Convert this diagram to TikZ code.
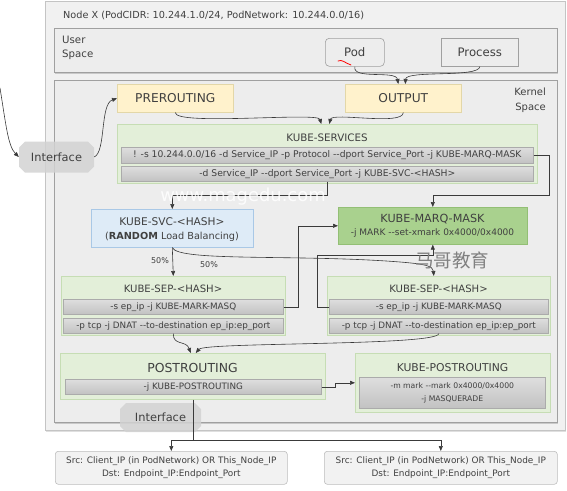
\documentclass[tikz,border=0pt]{standalone}
\usepackage{fontspec}
\setmainfont{DejaVu Sans}
\newfontfamily\cjkfont{Noto Sans CJK SC}
\usetikzlibrary{arrows.meta,shapes.misc,shadows,calc}

\definecolor{txt}{HTML}{404040}
\definecolor{linec}{HTML}{3A3A3A}
\definecolor{outerfill}{HTML}{F1F1F1}
\definecolor{outerdraw}{HTML}{C4C4C4}
\definecolor{spacefill}{HTML}{EDEDED}
\definecolor{spacedraw}{HTML}{A0A0A0}
\definecolor{yellowfill}{HTML}{FFF2CC}
\definecolor{yellowdraw}{HTML}{E3D7A8}
\definecolor{greenfill}{HTML}{E3EFD9}
\definecolor{greendraw}{HTML}{C6DDB4}
\definecolor{darkgreen}{HTML}{A9D18E}
\definecolor{darkgreendraw}{HTML}{93BF75}
\definecolor{bluefill}{HTML}{DEEBF7}
\definecolor{bluedraw}{HTML}{A9C8E6}
\definecolor{rowtop}{HTML}{DEDEDE}
\definecolor{rowbot}{HTML}{C2C2C2}
\definecolor{rowdraw}{HTML}{ABABAB}
\definecolor{ifacefill}{HTML}{D2D2D2}
\definecolor{dstfill}{HTML}{F2F2F2}
\definecolor{dstdraw}{HTML}{BDBDBD}

% two plain hyphens, kept apart from the en-dash ligature
\newcommand{\hh}{-{}-}

\begin{document}
\begin{tikzpicture}[x=1pt,y=-1pt,
  every node/.style={text=txt},
  boxK/.style={anchor=north west, inner sep=0pt, line width=0.6pt},
  spacebox/.style={boxK, fill=spacefill, draw=spacedraw,
    drop shadow={shadow xshift=1pt, shadow yshift=-1.5pt, opacity=0.35}},
  yellowbox/.style={boxK, fill=yellowfill, draw=yellowdraw, font=\fontsize{12.2}{14}\selectfont},
  greenbox/.style={boxK, fill=greenfill, draw=greendraw},
  rowbar/.style={boxK, top color=rowtop, bottom color=rowbot, draw=rowdraw,
    font=\fontsize{8.8}{10}\selectfont},
  userbox/.style={boxK, fill=spacefill, draw=spacedraw, font=\fontsize{11.7}{13}\selectfont},
  ttl/.style={font=\fontsize{10.3}{12}\selectfont, inner sep=0pt},
  iface/.style={chamfered rectangle, chamfered rectangle xsep=3pt,
    chamfered rectangle ysep=3pt, fill=ifacefill, fill opacity=0.85, text opacity=1,
    draw=none, inner sep=0pt, font=\fontsize{11.4}{14}\selectfont},
  dstbox/.style={boxK, rounded corners=3pt, fill=dstfill, draw=dstdraw,
    font=\fontsize{8.9}{13.5}\selectfont, align=center},
  pct/.style={font=\fontsize{8}{9}\selectfont, inner sep=0pt},
  arr/.style={draw=linec, line width=0.6pt, -{Triangle[length=5pt,width=4pt]}},
  plain/.style={draw=linec, line width=0.6pt}
]
\useasboundingbox (0,0) rectangle (567,490);

% ---------------- containers ----------------
\node[boxK, fill=outerfill, draw=outerdraw, minimum width=520pt, minimum height=429pt,
  drop shadow={shadow xshift=1pt, shadow yshift=-1.5pt, opacity=0.25}] (nodex) at (45,1) {};
\node[anchor=west, inner sep=0pt, font=\fontsize{9.7}{11}\selectfont] (nodextitle) at (63,15)
  {Node X (PodCIDR: 10.244.1.0/24, PodNetwork: 10.244.0.0/16)};

\node[spacebox, minimum width=503pt, minimum height=44pt] (user) at (54,28) {};
\node[anchor=north west, inner sep=0pt, align=left, font=\fontsize{10.2}{14}\selectfont] (usertxt)
  at (62,36) {User\\Space};

\node[spacebox, minimum width=503pt, minimum height=342pt] (kernel) at (54,80) {};
\node[anchor=north east, inner sep=0pt, align=right, font=\fontsize{10}{14.5}\selectfont] (kerneltxt)
  at (546,88) {Kernel\\Space};

% ---------------- user space ----------------
\node[userbox, rounded corners=4pt, minimum width=59pt, minimum height=28pt] (pod) at (325,38) {Pod};
\node[userbox, minimum width=77pt, minimum height=28pt] (process) at (441,38) {Process};

% ---------------- entry chains ----------------
\node[yellowbox, minimum width=116pt, minimum height=28pt] (pre) at (117,84) {PREROUTING};
\node[yellowbox, minimum width=116pt, minimum height=28pt] (out) at (345,84) {OUTPUT};

% KUBE-SERVICES
\node[greenbox, minimum width=420pt, minimum height=59pt] (svcs) at (117,124) {};
\node[ttl] (svcsttl) at (327,137.5) {KUBE-SERVICES};
\node[rowbar, minimum width=412pt, minimum height=16pt, font=\fontsize{9.2}{10}\selectfont] (svcsA) at (121,147)
  {! -s 10.244.0.0/16 -d Service\_IP -p Protocol \hh dport Service\_Port -j KUBE-MARQ-MASK};
\node[rowbar, minimum width=412pt, minimum height=15pt, font=\fontsize{9.2}{10}\selectfont] (svcsB) at (121,166)
  {-d Service\_IP \hh dport Service\_Port -j KUBE-SVC-<HASH>};

% KUBE-SVC
\node[boxK, fill=bluefill, draw=bluedraw, minimum width=162pt, minimum height=38pt] (svc) at (91,209) {};
\node[ttl, font=\fontsize{10.6}{12}\selectfont] (svcttl) at (172,222) {KUBE-SVC-<HASH>};
\node[ttl, font=\fontsize{9.7}{12}\selectfont] (svcsub) at (172,237)
  {({\bfseries RANDOM} Load Balancing)};

% KUBE-MARQ-MASK
\node[boxK, fill=darkgreen, draw=darkgreendraw, minimum width=189pt, minimum height=37pt] (marq) at (338,207) {};
\node[ttl, font=\fontsize{11.2}{12}\selectfont] (marqttl) at (432.5,219) {KUBE-MARQ-MASK};
\node[pct, font=\fontsize{9}{10}\selectfont] (marqtxt) at (432.5,233.5)
  {-j MARK \hh set-xmark 0x4000/0x4000};

% KUBE-SEP (left)
\node[greenbox, minimum width=224pt, minimum height=59pt] (sepA) at (61,276) {};
\node[ttl, font=\fontsize{10.1}{12}\selectfont] (sepAttl) at (173,289) {KUBE-SEP-<HASH>};
\node[rowbar, minimum width=220pt, minimum height=15pt] (sepAa) at (63,299)
  {-s ep\_ip -j KUBE-MARK-MASQ};
\node[rowbar, minimum width=220pt, minimum height=15pt] (sepAb) at (63,318)
  {-p tcp -j DNAT \hh to-destination ep\_ip:ep\_port};

% KUBE-SEP (right)
\node[greenbox, minimum width=223pt, minimum height=59pt] (sepB) at (327,276) {};
\node[ttl, font=\fontsize{10.1}{12}\selectfont] (sepBttl) at (438.5,289) {KUBE-SEP-<HASH>};
\node[rowbar, minimum width=219pt, minimum height=15pt] (sepBa) at (329,299)
  {-s ep\_ip -j KUBE-MARK-MASQ};
\node[rowbar, minimum width=219pt, minimum height=15pt] (sepBb) at (329,318)
  {-p tcp -j DNAT \hh to-destination ep\_ip:ep\_port};

% POSTROUTING
\node[greenbox, minimum width=265pt, minimum height=46pt] (post) at (60,353) {};
\node[ttl, font=\fontsize{12.4}{14}\selectfont] (postttl) at (192.5,368) {POSTROUTING};
\node[rowbar, minimum width=256pt, minimum height=15pt] (postA) at (65,379)
  {-j KUBE-POSTROUTING};

% KUBE-POSTROUTING
\node[greenbox, minimum width=195pt, minimum height=59pt] (kpost) at (355,353) {};
\node[ttl, font=\fontsize{10.8}{12}\selectfont] (kpostttl) at (452.5,367.5) {KUBE-POSTROUTING};
\node[rowbar, minimum width=186pt, minimum height=31pt, align=center,
  font=\fontsize{7.7}{13}\selectfont] (kpostA) at (359,377)
  {-m mark \hh mark 0x4000/0x4000\\-j MASQUERADE};

% ---------------- interfaces ----------------
\node[iface, minimum width=75pt, minimum height=31pt] (ifaceIn) at (56.5,157) {Interface};
\node[iface, minimum width=81pt, minimum height=29pt] (ifaceOut) at (160.5,417.5) {Interface};

% ---------------- destinations ----------------
\node[dstbox, minimum width=232pt, minimum height=33pt] (dstA) at (55,451)
  {Src: Client\_IP (in PodNetwork) OR This\_Node\_IP\\Dst: Endpoint\_IP:Endpoint\_Port};
\node[dstbox, minimum width=233pt, minimum height=33pt] (dstB) at (324,451)
  {Src: Client\_IP (in PodNetwork) OR This\_Node\_IP\\Dst: Endpoint\_IP:Endpoint\_Port};

% ---------------- connectors ----------------
\coordinate (wire) at (0,88);
\draw[arr] (wire) .. controls (6,125) and (8,146) .. (ifaceIn.west);
\draw[arr] (ifaceIn.east) .. controls (106,152) and (100,104) .. (pre.west);

\draw[arr] (pod.south) .. controls (352,80) and (396,70) .. ($(out.north)+(-5,0)$);
\draw[arr] (process.south) .. controls (479,78) and (406,70) .. ($(out.north)+(2,0)$);

\draw[arr] (pre.south) .. controls (175,126) and (318,112) .. ($(svcs.north)+(-6,0)$);
\draw[arr] (out.south) .. controls (403,126) and (332,112) .. ($(svcs.north)+(2,0)$);

\draw[arr] (svcsA.east) -| ++(16,40) -| (marq.north);
\draw[arr] (svcsB.south) -- ++(0,14) -| (svc.north);

\draw[arr] (svc.south) -- (sepA.north);
\draw[arr] (svc.south) .. controls (178,262) and (300,254) .. (400,262)
  .. controls (425,264) and (433,266) .. ($(sepB.north)+(-5,0)$);
\node[pct] (pctA) at (160,261) {50\%};
\node[pct] (pctB) at (209,265) {50\%};

\draw[arr] (sepAa.east) -- ++(15,0) |- (marq.west);
\draw[arr] (sepBa.west) -- ++(-12,0) -- ++(0,-51.5) -| (marq.south);

\draw[arr] (sepAb.south) .. controls (173,346) and (186,340) .. ($(post.north)+(-2,0)$);
\draw[arr] (sepBb.south) .. controls (438,346) and (205,342) .. ($(post.north)+(3,0)$);

\draw[arr] (postA.east) -- ++(14,0) |- (kpost.west);

\draw[plain] (post.south) -- ++(0,41) coordinate (split);
\draw[arr] (split) -| (dstA.north);
\draw[arr] (split) -| (dstB.north);

% ---------------- pen stroke and watermarks ----------------
\draw[red, line width=0.8pt, line cap=round] (338,61) .. controls (342,59) and (345,63) .. (351,65);
\node[text=white, text opacity=0.85, font=\fontsize{17.9}{20}\selectfont, inner sep=0pt] (wmA)
  at (243,197) {www.magedu.com};
\node[text=black!50, font=\cjkfont\fontsize{18.5}{20}\selectfont, inner sep=0pt] (wmB)
  at (452,260) {马哥教育};
\end{tikzpicture}
\end{document}
